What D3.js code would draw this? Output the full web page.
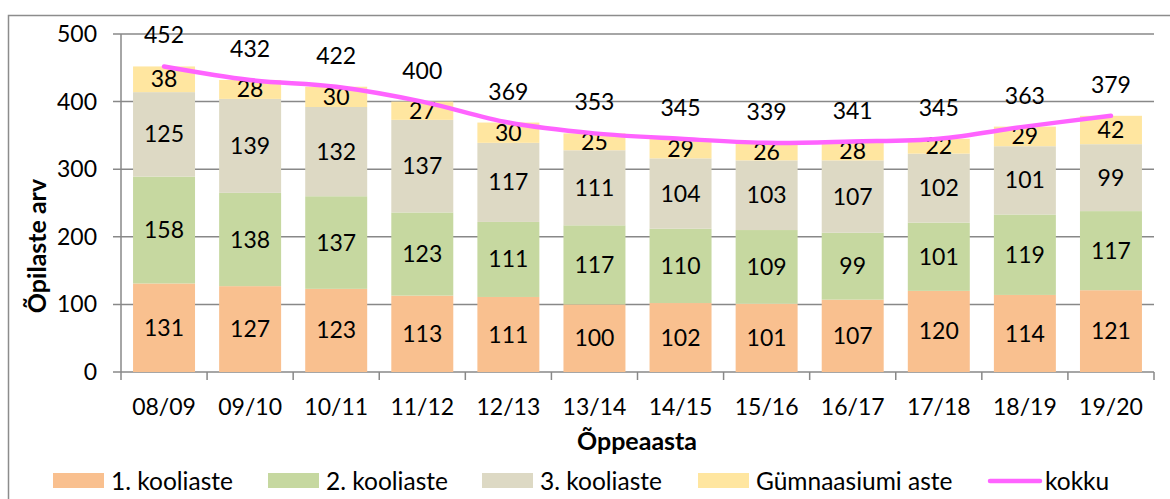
<!DOCTYPE html>
<html>
<head>
<meta charset="utf-8">
<script src="https://cdnjs.cloudflare.com/ajax/libs/d3/7.8.5/d3.min.js"></script>
<style>
  body { margin: 0; background: #fff; }
  svg { font-family: Lato, "Open Sans", sans-serif; }
</style>
</head>
<body>
<div id="chart"></div>
<script>
var years = ["08/09","09/10","10/11","11/12","12/13","13/14","14/15","15/16","16/17","17/18","18/19","19/20"];
var aste1 = [131,127,123,113,111,100,102,101,107,120,114,121];
var aste2 = [158,138,137,123,111,117,110,109,99,101,119,117];
var aste3 = [125,139,132,137,117,111,104,103,107,102,101,99];
var gymn = [38,28,30,27,30,25,29,26,28,22,29,42];
var kokku = [452,432,422,400,369,353,345,339,341,345,363,379];
var seriesNames = ["1. kooliaste","2. kooliaste","3. kooliaste","Gümnaasiumi aste"];
var yTicks = [0,100,200,300,400,500];

var colors = ["#F9C08F","#C6D8A0","#DDD9C4","#FFE6A0"];
var lineColor = "#FF63FF";
var gridColor = "#888";

var width = 1170, height = 499;
var plotLeft = 121, plotRight = 1154, plotTop = 34, plotBottom = 372;

var svg = d3.select("#chart").append("svg")
    .attr("width", width)
    .attr("height", height);

// outer chart border (runs off the bottom/right)
svg.append("rect")
    .attr("x", 8.5).attr("y", 15.5)
    .attr("width", 1200).attr("height", 600)
    .attr("fill", "none")
    .attr("stroke", "#8c8c8c")
    .attr("stroke-width", 1.5);

var x = d3.scaleBand().domain(years).range([plotLeft, plotRight]).paddingInner(0.28).paddingOuter(0.14);
var y = d3.scaleLinear().domain([0, 500]).range([plotBottom, plotTop]);

// gridlines
svg.append("g").selectAll("line").data(yTicks).join("line")
    .attr("x1", plotLeft - 8).attr("x2", plotRight)
    .attr("y1", function(d) { return y(d); })
    .attr("y2", function(d) { return y(d); })
    .attr("stroke", gridColor).attr("stroke-width", 1.5);

// y tick labels
svg.append("g").selectAll("text").data(yTicks).join("text")
    .attr("x", 97).attr("y", function(d) { return y(d); })
    .attr("text-anchor", "end").attr("dy", "0.35em")
    .attr("font-size", 23).attr("fill", "#000")
    .text(function(d) { return d; });

// stacked data
var rows = years.map(function(yr, i) {
    return { year: yr, a: aste1[i], b: aste2[i], c: aste3[i], g: gymn[i] };
});
var stack = d3.stack().keys(["a","b","c","g"])(rows);

var layers = svg.append("g").selectAll("g").data(stack).join("g")
    .attr("fill", function(d, i) { return colors[i]; });

layers.selectAll("rect").data(function(d) { return d; }).join("rect")
    .attr("x", function(d) { return x(d.data.year); })
    .attr("width", x.bandwidth())
    .attr("y", function(d) { return y(d[1]); })
    .attr("height", function(d) { return y(d[0]) - y(d[1]); });

layers.selectAll("text").data(function(d) { return d; }).join("text")
    .attr("x", function(d) { return x(d.data.year) + x.bandwidth() / 2; })
    .attr("y", function(d) { return (y(d[0]) + y(d[1])) / 2; })
    .attr("text-anchor", "middle").attr("dy", "0.35em")
    .attr("font-size", 23).attr("fill", "#000")
    .text(function(d) { return d[1] - d[0]; });

// axes lines
svg.append("line")
    .attr("x1", plotLeft).attr("x2", plotLeft).attr("y1", plotTop).attr("y2", plotBottom)
    .attr("stroke", gridColor).attr("stroke-width", 1.5);

var tickXs = d3.range(years.length + 1).map(function(i) { return plotLeft + i * (plotRight - plotLeft) / years.length; });
svg.append("g").selectAll("line").data(tickXs).join("line")
    .attr("x1", function(d) { return d; }).attr("x2", function(d) { return d; })
    .attr("y1", plotBottom).attr("y2", plotBottom + 8)
    .attr("stroke", gridColor).attr("stroke-width", 1.5);

// x labels
svg.append("g").selectAll("text").data(years).join("text")
    .attr("x", function(d) { return x(d) + x.bandwidth() / 2; })
    .attr("y", 407).attr("dy", "0.35em")
    .attr("text-anchor", "middle")
    .attr("font-size", 23).attr("fill", "#000")
    .text(function(d) { return d; });

// total line
var line = d3.line()
    .x(function(d, i) { return x(years[i]) + x.bandwidth() / 2; })
    .y(function(d) { return y(d); })
    .curve(d3.curveCatmullRom.alpha(0.5));

svg.append("path")
    .attr("d", line(kokku))
    .attr("fill", "none")
    .attr("stroke", lineColor)
    .attr("stroke-width", 4.5)
    .attr("stroke-linecap", "round");

svg.append("g").selectAll("text").data(kokku).join("text")
    .attr("x", function(d, i) { return x(years[i]) + x.bandwidth() / 2; })
    .attr("y", function(d) { return y(d) - 31; })
    .attr("text-anchor", "middle").attr("dy", "0.35em")
    .attr("font-size", 23).attr("fill", "#000")
    .text(function(d) { return d; });

// axis titles
svg.append("text")
    .attr("transform", "translate(37,246) rotate(-90)")
    .attr("text-anchor", "middle").attr("dy", "0.35em")
    .attr("font-size", 25).attr("font-weight", "bold")
    .text("Õpilaste arv");

svg.append("text")
    .attr("x", 637).attr("y", 441).attr("dy", "0.35em")
    .attr("text-anchor", "middle")
    .attr("font-size", 25).attr("font-weight", "bold")
    .text("Õppeaasta");

// legend
var legendX = [53, 268, 482, 698];
var legend = svg.append("g");
seriesNames.forEach(function(name, i) {
    legend.append("rect")
        .attr("x", legendX[i]).attr("y", 473)
        .attr("width", 51).attr("height", 15)
        .attr("fill", colors[i]);
    legend.append("text")
        .attr("x", legendX[i] + 58).attr("y", 481).attr("dy", "0.35em")
        .attr("font-size", 24.5)
        .text(name);
});
legend.append("line")
    .attr("x1", 990).attr("x2", 1040).attr("y1", 481).attr("y2", 481)
    .attr("stroke", lineColor).attr("stroke-width", 4.5).attr("stroke-linecap", "round");
legend.append("text")
    .attr("x", 1045).attr("y", 481).attr("dy", "0.35em")
    .attr("font-size", 24.5)
    .text("kokku");
</script>
</body>
</html>
